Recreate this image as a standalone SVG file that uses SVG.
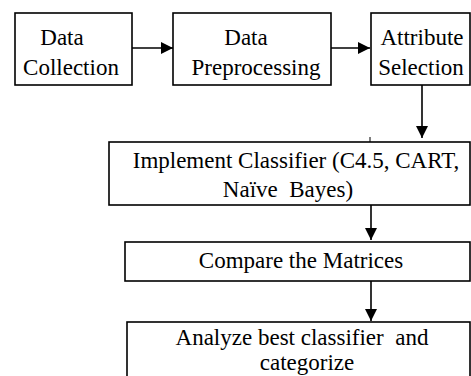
<svg xmlns="http://www.w3.org/2000/svg" width="471" height="376" viewBox="0 0 471 376">
<style>
.box{fill:#fff;stroke:#000;stroke-width:1.6}
.t{font-family:'Liberation Serif','Times New Roman',serif;font-size:23px;fill:#000;text-anchor:middle}
.c{stroke:#000;stroke-width:1.6;fill:none}
</style>
<defs>
<marker id="ah" viewBox="0 0 12 12" refX="12" refY="6" markerWidth="12" markerHeight="12" markerUnits="userSpaceOnUse" orient="auto">
<path d="M0,0 L12,6 L0,12 Z" fill="#000"/>
</marker>
</defs>
<rect width="471" height="376" fill="#fff"/>
<g id="connectors">
<line class="c" x1="132" y1="48" x2="173" y2="48" marker-end="url(#ah)"/>
<line class="c" x1="331" y1="48" x2="370" y2="48" marker-end="url(#ah)"/>
<line class="c" x1="422" y1="85" x2="422" y2="138" marker-end="url(#ah)"/>
<line class="c" x1="371" y1="205" x2="371" y2="240" marker-end="url(#ah)"/>
<line class="c" x1="371" y1="281" x2="371" y2="321" marker-end="url(#ah)"/>
<line x1="370" y1="137" x2="370" y2="142" stroke="#000" stroke-width="1"/>
</g>
<g id="data-collection">
<rect class="box" x="15" y="13" width="117" height="72"/>
<text class="t" x="62" y="45">Data</text>
<text class="t" x="71" y="75">Collection</text>
</g>
<g id="data-preprocessing">
<rect class="box" x="173" y="13" width="158" height="72"/>
<text class="t" x="246" y="45">Data</text>
<text class="t" x="256" y="75">Preprocessing</text>
</g>
<g id="attribute-selection">
<rect class="box" x="371" y="13" width="99" height="72"/>
<text class="t" x="422" y="45">Attribute</text>
<text class="t" x="421" y="75">Selection</text>
</g>
<g id="implement-classifier">
<rect class="box" x="109" y="142" width="361" height="63"/>
<text class="t" x="296" y="168">Implement Classifier (C4.5, CART,</text>
<text class="t" x="288" y="197" xml:space="preserve">Naïve  Bayes)</text>
</g>
<g id="compare-matrices">
<rect class="box" x="125" y="242" width="345" height="39"/>
<text class="t" x="301" y="268">Compare the Matrices</text>
</g>
<g id="analyze">
<rect class="box" x="127" y="322" width="343" height="60"/>
<text class="t" x="302" y="345" xml:space="preserve">Analyze best classifier  and</text>
<text class="t" x="307" y="370">categorize</text>
</g>
</svg>
